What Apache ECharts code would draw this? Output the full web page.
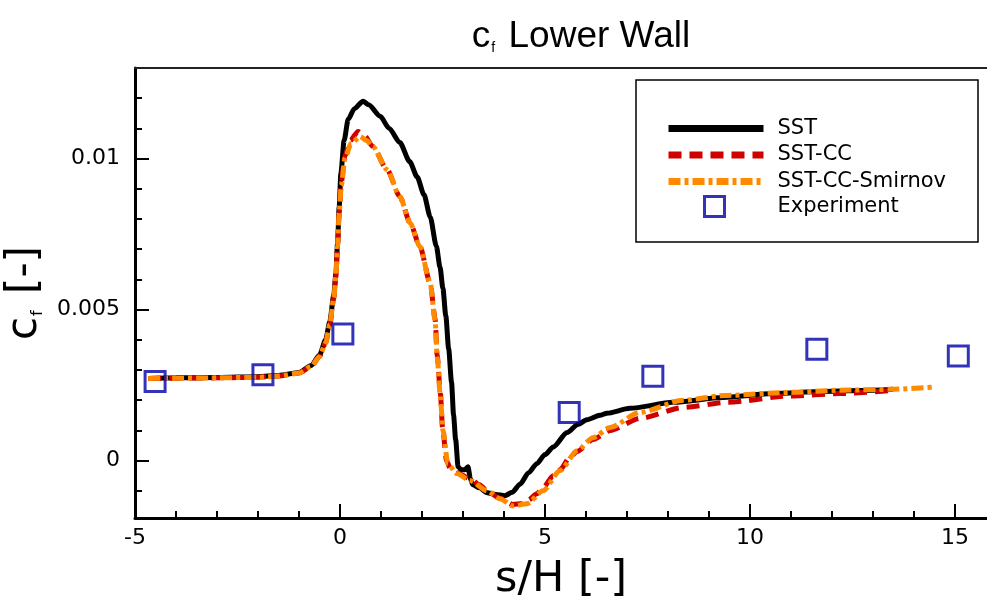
<!DOCTYPE html>
<html>
<head>
<meta charset="utf-8">
<script src="https://cdn.jsdelivr.net/npm/echarts@6/dist/echarts.min.js"></script>
<style>html,body{margin:0;padding:0;background:#fff;}#c{width:987px;height:602px;}</style>
</head>
<body>
<div id="c"></div>
<script>
// ---- data (s/H, cf) ----
const sstX = [-4.68,-4,-3,-2,-1.5,-1.0,-0.7,-0.5,-0.35,-0.25,-0.15,-0.1,-0.06,-0.02,0.02,0.1,0.2,0.35,0.56,0.7,0.98,1.2,1.46,1.7,1.88,2.05,2.2,2.35,2.44,2.51,2.58,2.65,2.72,2.77,2.82,2.88,2.95,3.05,3.12,3.18,3.24,3.4,3.59,3.8,4.02,4.2,4.39,4.6,4.8,5.0,5.2,5.54,5.8,6.02,6.34,6.51,7.07,8.12,9.34,10.56,11.78,13.0,13.49];
const sstY = [0.00272,0.00274,0.00275,0.00278,0.00282,0.00292,0.00315,0.0035,0.0040,0.0046,0.0055,0.0062,0.0072,0.0084,0.0095,0.0106,0.0113,0.01165,0.0119,0.01178,0.0114,0.0110,0.01053,0.0099,0.0094,0.0088,0.00807,0.0071,0.0064,0.0057,0.0048,0.0037,0.0026,0.0015,0.0007,-0.0002,-0.0003,-0.0003,-0.0002,-0.0006,-0.0008,-0.0009,-0.00106,-0.00112,-0.00116,-0.00105,-0.00078,-0.0004,-0.0001,0.0002,0.00045,0.00093,0.0012,0.00135,0.0015,0.00157,0.00173,0.00193,0.00209,0.00222,0.00229,0.00233,0.00236];

const ccX = [-4.68,-4,-3,-2,-1.5,-1,-0.7,-0.5,-0.35,-0.25,-0.15,-0.1,-0.06,-0.02,0.03,0.12,0.25,0.44,0.6,0.8,1.15,1.46,1.71,1.95,2.2,2.32,2.37,2.45,2.5,2.6,2.7,2.85,3.17,3.4,3.59,3.9,4.22,4.45,4.6,4.8,4.95,5.2,5.37,5.6,5.78,6.17,6.59,7.32,8.37,9.44,10.98,12.2,13.41];
const ccY = [0.00272,0.00273,0.00274,0.00276,0.0028,0.0029,0.00312,0.00345,0.0039,0.0045,0.0054,0.0061,0.0071,0.0082,0.0092,0.0101,0.0106,0.0109,0.01075,0.0104,0.00963,0.00874,0.00787,0.00708,0.00588,0.0047,0.0035,0.0022,0.0011,0.0,-0.0003,-0.0004,-0.0006,-0.0008,-0.001,-0.00125,-0.00145,-0.00142,-0.0013,-0.0011,-0.0009,-0.0005,-0.0003,0.0001,0.0003,0.0007,0.001,0.0014,0.00176,0.00193,0.00214,0.00222,0.00232];

const smX = [-4.68,-4,-3,-2,-1.5,-1,-0.7,-0.5,-0.35,-0.25,-0.15,-0.1,-0.06,-0.02,0.03,0.12,0.27,0.49,0.65,0.8,1.15,1.46,1.71,1.95,2.2,2.32,2.37,2.45,2.51,2.63,2.85,3.17,3.59,3.9,4.22,4.56,4.95,5.37,5.78,6.17,6.59,7.32,8.37,9.44,10.98,12.2,13.41,14.44];
const smY = [0.00272,0.00273,0.00274,0.00276,0.0028,0.0029,0.00312,0.00345,0.0039,0.0045,0.0054,0.0061,0.0071,0.0082,0.0091,0.0100,0.0105,0.01073,0.0106,0.0104,0.00963,0.00874,0.00787,0.00708,0.00588,0.00465,0.00342,0.00209,0.001,-0.0001,-0.00043,-0.00066,-0.001,-0.00126,-0.0015,-0.00143,-0.001,-0.00033,0.00033,0.00076,0.0011,0.0016,0.002,0.00216,0.00226,0.00233,0.00236,0.00243];

const expX = [-4.51,-1.88,0.07,5.59,7.63,11.63,15.08];
const expY = [0.00262,0.00284,0.00419,0.00159,0.00279,0.00369,0.00346];

const xTicks = [-5,0,5,10,15];
const yTicks = [0,0.005,0.01];
const yMinorTicks = [-0.001,0.001,0.002,0.003,0.004,0.006,0.007,0.008,0.009,0.011,0.012];
const seriesNames = ['SST','SST-CC','SST-CC-Smirnov','Experiment'];

const zip = (a,b)=>a.map((v,i)=>[v,b[i]]);
const FONT = 'Liberation Sans, Arial, sans-serif';
const TFONT = 'DejaVu Sans, sans-serif';
const subRich = (font, size, sub)=>({
  c:{fontFamily:font,fontSize:size,fontWeight:'normal',color:'#000'},
  f:{fontFamily:font,fontSize:sub,fontWeight:'normal',color:'#000',verticalAlign:'bottom',padding:[0,3,0,1]}
});

const chart = echarts.init(document.getElementById('c'), null, {renderer:'canvas'});
chart.setOption({
  animation:false,
  backgroundColor:'#fff',
  title:{
    text:'{c|c}{f|f}{c| Lower Wall}',
    left:576, top:13, textAlign:'center',
    textStyle:{fontWeight:'normal', rich:subRich(FONT,37,14)}
  },
  grid:{left:135,right:0,top:68,bottom:84,containLabel:false,outerBoundsMode:'none'},
  xAxis:[{
    type:'value', min:-5, max:15.78, interval:5, position:'bottom',
    axisLine:{show:true,onZero:false,lineStyle:{color:'#000',width:3}},
    axisTick:{show:true,inside:true,length:14,lineStyle:{color:'#000',width:2}, customValues:xTicks},
    minorTick:{show:true,splitNumber:5,length:7,lineStyle:{color:'#000',width:2}},
    axisLabel:{color:'#000',fontFamily:TFONT,fontSize:22,margin:9, customValues:xTicks},
    splitLine:{show:false},
    name:'s/H [-]', nameLocation:'middle', nameGap:40,
    nameTextStyle:{color:'#000',fontFamily:TFONT,fontSize:43}
  },{
    type:'value', min:-5, max:15.78, position:'top',
    axisLine:{show:true,onZero:false,lineStyle:{color:'#222',width:2}},
    axisTick:{show:false},axisLabel:{show:false},splitLine:{show:false}
  }],
  yAxis:[{
    type:'value', min:-0.0019, max:0.013, position:'left',
    axisLine:{show:true,onZero:false,lineStyle:{color:'#000',width:3}},
    axisTick:{show:true,inside:true,length:14,lineStyle:{color:'#000',width:2}, customValues:yTicks},
    axisLabel:{color:'#000',fontFamily:TFONT,fontSize:22,margin:15, customValues:yTicks,
      formatter:(v)=>String(+v.toFixed(4))},
    splitLine:{show:false},
    name:'{c|c}{f|f}{c| [-]}', nameLocation:'middle', nameRotate:90, nameGap:79,
    nameTextStyle:{fontWeight:'normal', rich:subRich(TFONT,42,16)}
  },{
    type:'value', min:-0.0019, max:0.013, position:'left',
    axisLine:{show:false,onZero:false},
    axisTick:{show:true,inside:true,length:7,lineStyle:{color:'#000',width:2}, customValues:yMinorTicks},
    axisLabel:{show:false}, splitLine:{show:false}
  }],
  legend:[{
    data:seriesNames.slice(0,3), orient:'vertical', left:665, top:118, padding:0,
    itemWidth:95, itemHeight:20, itemGap:5.5, selectedMode:false,
    itemStyle:{opacity:0},
    lineStyle:{width:7},
    textStyle:{color:'#000',fontFamily:TFONT,fontSize:21,padding:[0,0,0,9]}
  },{
    data:[{name:seriesNames[3], icon:'rect', itemStyle:{color:'rgba(0,0,0,0)',borderColor:'#0000a8',borderWidth:3}}],
    orient:'vertical', left:703, top:195, padding:0, itemWidth:20, itemHeight:20, selectedMode:false,
    textStyle:{color:'#000',fontFamily:TFONT,fontSize:21,padding:[0,0,0,48]}
  }],
  graphic:[{
    type:'rect', shape:{x:636,y:80,width:342,height:162},
    style:{fill:'rgba(0,0,0,0)',stroke:'#000',lineWidth:1.5}, z:0
  }],
  series:[{
    name:seriesNames[0], type:'line', data:zip(sstX,sstY), symbol:'none',
    smooth:0.25, smoothMonotone:'x',
    lineStyle:{color:'#000',width:5}, itemStyle:{color:'#000'}, z:2
  },{
    name:seriesNames[1], type:'line', data:zip(ccX,ccY), symbol:'none',
    smooth:0.25, smoothMonotone:'x',
    lineStyle:{color:'#d10000',width:5,type:[13,8]}, itemStyle:{color:'#d10000'}, z:3
  },{
    name:seriesNames[2], type:'line', data:zip(smX,smY), symbol:'none',
    smooth:0.25, smoothMonotone:'x',
    lineStyle:{color:'#ff8a00',width:5,type:[12,4,4,4]}, itemStyle:{color:'#ff8a00'}, z:4
  },{
    name:seriesNames[3], type:'scatter', data:zip(expX,expY), symbol:'rect', symbolSize:20,
    itemStyle:{color:'rgba(0,0,0,0)',borderColor:'#0000a8',borderWidth:3}, z:5
  }]
});
</script>
</body>
</html>
